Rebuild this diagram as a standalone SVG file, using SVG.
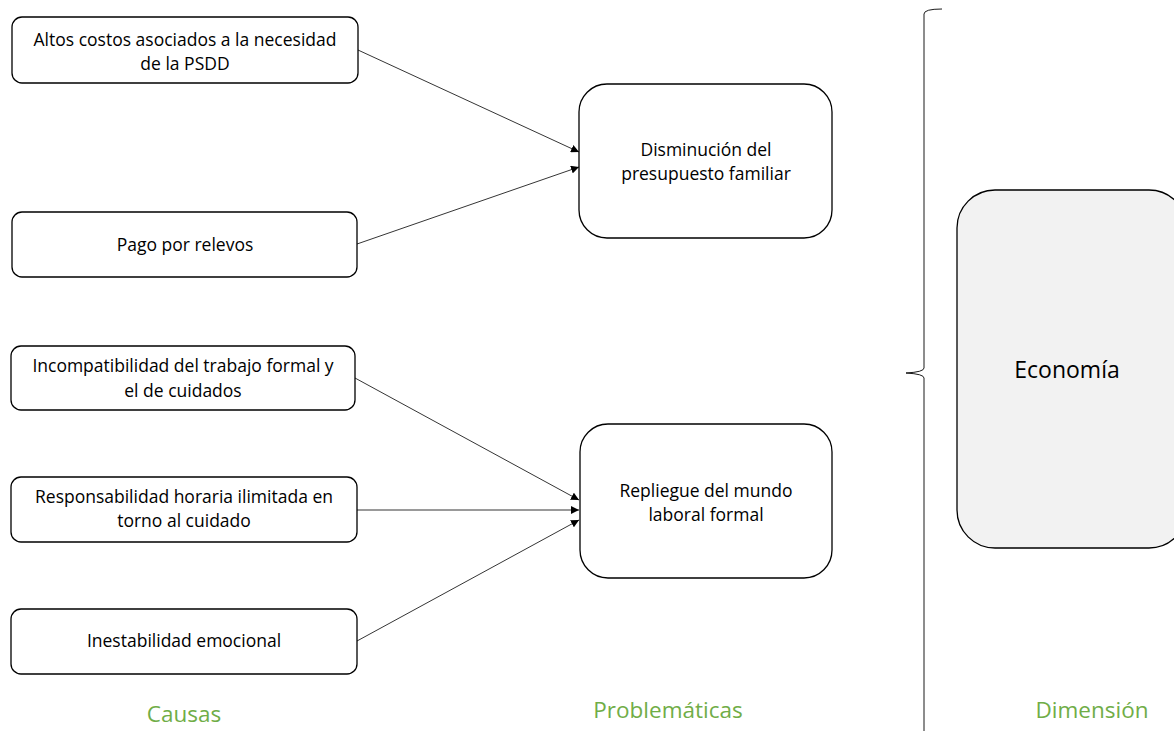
<svg xmlns="http://www.w3.org/2000/svg" width="1174" height="731" viewBox="0 0 1174 731">
<style>
.box{fill:#fff;stroke:#000;stroke-width:1.3}
.t{font-family:"Open Sans","Noto Sans","Liberation Sans",sans-serif;font-size:17.5px;fill:#000;text-anchor:middle}
.lbl{font-family:"Open Sans","Noto Sans","Liberation Sans",sans-serif;font-size:22.5px;fill:#70ad47;text-anchor:middle}
.c{stroke:#000;stroke-width:0.8;fill:none;marker-end:url(#ah)}
</style>
<defs>
<marker id="ah" viewBox="0 0 10 10" refX="10" refY="5" markerWidth="8" markerHeight="8" markerUnits="userSpaceOnUse" orient="auto">
<path d="M0,0 L10,5 L0,10 z" fill="#000"/>
</marker>
</defs>
<rect width="1174" height="731" fill="#fff"/>
<g id="connectors">
<line class="c" x1="358" y1="50" x2="579" y2="152"/>
<line class="c" x1="357" y1="244" x2="579" y2="167"/>
<line class="c" x1="355" y1="378" x2="579" y2="500"/>
<line class="c" x1="357" y1="510" x2="579" y2="510"/>
<line class="c" x1="357" y1="641" x2="579" y2="520"/>
</g>
<g id="n1"><rect class="box" x="12" y="17" width="346" height="66" rx="10"/>
<text class="t" x="185" y="46">Altos costos asociados a la necesidad</text>
<text class="t" x="185" y="70">de la PSDD</text></g>
<g id="n2"><rect class="box" x="12" y="212" width="345" height="65" rx="10"/>
<text class="t" x="185" y="251">Pago por relevos</text></g>
<g id="n3"><rect class="box" x="11" y="346" width="344" height="64" rx="10"/>
<text class="t" x="183" y="372">Incompatibilidad del trabajo formal y</text>
<text class="t" x="183" y="397">el de cuidados</text></g>
<g id="n4"><rect class="box" x="11" y="477" width="346" height="65" rx="10"/>
<text class="t" x="184" y="503">Responsabilidad horaria ilimitada en</text>
<text class="t" x="184" y="527">torno al cuidado</text></g>
<g id="n5"><rect class="box" x="11" y="609" width="346" height="65" rx="10"/>
<text class="t" x="184" y="647">Inestabilidad emocional</text></g>
<g id="p1"><rect class="box" x="579" y="84" width="253" height="154" rx="28"/>
<text class="t" x="706" y="156">Disminución del</text>
<text class="t" x="706" y="180">presupuesto familiar</text></g>
<g id="p2"><rect class="box" x="580" y="424" width="252" height="154" rx="28"/>
<text class="t" x="706" y="497">Repliegue del mundo</text>
<text class="t" x="706" y="521">laboral formal</text></g>
<g id="brace"><path d="M942,9 Q924,9 924,14 L924,368 Q924,372 906,373 Q924,374 924,378 L924,731" fill="none" stroke="#000" stroke-width="0.9"/></g>
<g id="d1"><rect x="957" y="190" width="230" height="358" rx="38" fill="#f2f2f2" stroke="#000" stroke-width="1.3"/>
<text x="1067" y="378" font-family="'Open Sans','Noto Sans',sans-serif" font-size="23" text-anchor="middle" fill="#000">Economía</text></g>
<g id="labels">
<text class="lbl" x="184" y="722">Causas</text>
<text class="lbl" x="668" y="718">Problemáticas</text>
<text class="lbl" x="1092" y="718">Dimensión</text>
</g>
</svg>
